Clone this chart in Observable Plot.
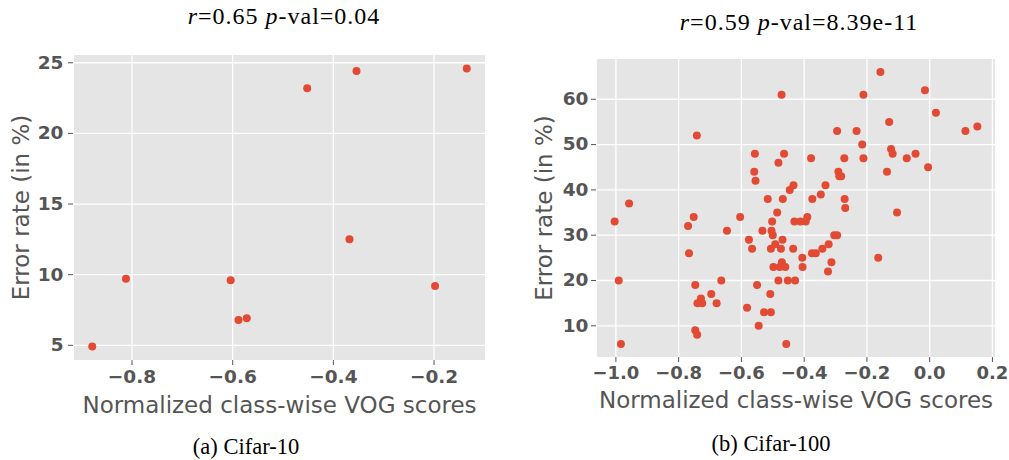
<!DOCTYPE html>
<html>
<head>
<meta charset="utf-8">
<script src="https://cdn.jsdelivr.net/npm/d3@7"></script>
<script src="https://cdn.jsdelivr.net/npm/@observablehq/plot@0.6"></script>
<style>
  html, body { margin: 0; padding: 0; background: #fff; }
  #wrap { position: relative; width: 1009px; height: 460px; overflow: hidden; }
  .panel { position: absolute; top: 0; }
  .ttl, .cap { position: absolute; white-space: nowrap; font-family: "Liberation Serif", "Times New Roman", serif; color: #000; line-height: 1; transform: translateX(-50%); }
  .ttl { font-size: 24px; letter-spacing: 1px; }
  .cap { font-size: 22.5px; }
  .ttl i { font-style: italic; }
</style>
</head>
<body>
<div id="wrap">
  <div class="ttl" style="left:284px; top:4px;"><i>r</i>=0.65 <i>p</i>-val=0.04</div>
  <div class="ttl" style="left:799px; top:10px;"><i>r</i>=0.59 <i>p</i>-val=8.39e-11</div>
  <div id="pa" class="panel" style="left:0px;"></div>
  <div id="pb" class="panel" style="left:500px;"></div>
  <div class="cap" style="left:246px; top:436px;">(a) Cifar-10</div>
  <div class="cap" style="left:771px; top:433px;">(b) Cifar-100</div>
</div>
<script>
// ---- Data: (a) Cifar-10 ----
const vogA = [-0.879, -0.812, -0.604, -0.5885, -0.572, -0.368, -0.198, -0.452, -0.354, -0.135];
const errA = [4.91, 9.72, 9.6, 6.79, 6.91, 12.5, 9.2, 23.19, 24.41, 24.6];
const xTicksA = [-0.8, -0.6, -0.4, -0.2];
const yTicksA = [5, 10, 15, 20, 25];

// ---- Data: (b) Cifar-100 ----
const vogB = [
  -0.157, -0.472, -0.211, -0.015, -0.742, 0.020, -0.129, -0.295, -0.233, 0.114,
  0.152, -0.215, -0.557, -0.464, -0.123, -0.118, -0.045, -0.378, -0.272, -0.211,
  -0.073, -0.482, -0.005, -0.559, -0.291, -0.136, -0.555, -0.288, -0.282, -0.446,
  -0.434, -0.332, -0.347, -0.958, -1.004, -0.516, -0.468, -0.374, -0.271, -0.269,
  -0.104, -0.486, -0.752, -0.604, -0.390, -0.770, -0.502, -0.431, -0.412, -0.395,
  -0.646, -0.533, -0.504, -0.500, -0.469, -0.576, -0.304, -0.295, -0.492, -0.322,
  -0.767, -0.566, -0.506, -0.474, -0.435, -0.375, -0.363, -0.342, -0.164, -0.406,
  -0.471, -0.313, -0.498, -0.478, -0.460, -0.405, -0.324, -0.991, -0.664, -0.482,
  -0.452, -0.429, -0.747, -0.550, -0.508, -0.696, -0.740, -0.729, -0.725, -0.679,
  -0.582, -0.528, -0.506, -0.545, -0.747, -0.741, -0.984, -0.457
];
const errB = [
  66, 61, 61, 62, 52, 57, 55, 53, 53, 53,
  54, 50, 48, 48, 49, 48, 48, 47, 47, 47,
  47, 46, 45, 44, 44, 44, 42, 43, 43, 40,
  41, 41, 39, 37, 33, 38, 38, 38, 38, 36,
  35, 35, 34, 34, 34, 32, 33, 33, 33, 33,
  31, 31, 31, 30, 29, 29, 30, 30, 28, 28,
  26, 27, 27, 27, 27, 26, 26, 27, 25, 25,
  24, 24, 23, 23, 23, 23, 22, 20, 20, 20,
  20, 20, 19, 19, 17, 17, 15, 16, 15, 15,
  14, 13, 13, 10, 9, 8, 6, 6
];
const xTicksB = [-1.0, -0.8, -0.6, -0.4, -0.2, 0.0, 0.2];
const yTicksB = [10, 20, 30, 40, 50, 60];

const xLabel = "Normalized class-wise VOG scores";
const yLabel = "Error rate (in %)";

const FONT = "DejaVu Sans";

function padded(vals) {
  const [lo, hi] = d3.extent(vals);
  const p = (hi - lo) * 0.05;
  return [lo - p, hi + p];
}

function panel({xs, ys, xTicks, yTicks, width, height, m, yTickPad, xLabOff, yLabOff, tickFont}) {
  const data = xs.map((x, i) => ({x, y: ys[i]}));
  const fmt = d3.format(".1f");
  return Plot.plot({
    width, height,
    marginLeft: m.left, marginRight: m.right, marginTop: m.top, marginBottom: m.bottom,
    style: {background: "transparent", color: "#555555", fontFamily: FONT, overflow: "visible"},
    x: {domain: padded(xs)},
    y: {domain: padded(ys)},
    marks: [
      Plot.frame({fill: "#E5E5E5", stroke: "white", strokeWidth: 1}),
      Plot.gridX(xTicks, {stroke: "white", strokeOpacity: 1, strokeWidth: 1.3}),
      Plot.gridY(yTicks, {stroke: "white", strokeOpacity: 1, strokeWidth: 1.3}),
      Plot.dot(data, {x: "x", y: "y", r: 4, fill: "#E24A33", stroke: "none"}),
      Plot.axisX(xTicks, {tickFormat: fmt, tickSize: 5, tickPadding: 4, fontSize: tickFont, fontWeight: "bold", fontFamily: FONT, label: null}),
      Plot.axisY(yTicks, {tickFormat: d3.format("d"), tickSize: 5, tickPadding: yTickPad, fontSize: 18.5, fontWeight: "bold", fontFamily: FONT, label: null}),
      Plot.text([xLabel], {frameAnchor: "bottom", dy: xLabOff, lineAnchor: "bottom", textAnchor: "middle", fontSize: 23, fontFamily: FONT, fill: "#555555"}),
      Plot.text([yLabel], {frameAnchor: "left", dx: -yLabOff, rotate: -90, lineAnchor: "top", textAnchor: "middle", fontSize: 23, fontFamily: FONT, fill: "#555555"})
    ]
  });
}

document.getElementById("pa").append(panel({
  xs: vogA, ys: errA, xTicks: xTicksA, yTicks: yTicksA,
  width: 500, height: 420,
  m: {left: 73, right: 15, top: 54, bottom: 60},
  yTickPad: 5, xLabOff: 52, yLabOff: 61, tickFont: 18.5
}));

document.getElementById("pb").append(panel({
  xs: vogB, ys: errB, xTicks: xTicksB, yTicks: yTicksB,
  width: 509, height: 420,
  m: {left: 96, right: 14, top: 58, bottom: 63},
  yTickPad: 3, xLabOff: 50, yLabOff: 61, tickFont: 18
}));
</script>
</body>
</html>
